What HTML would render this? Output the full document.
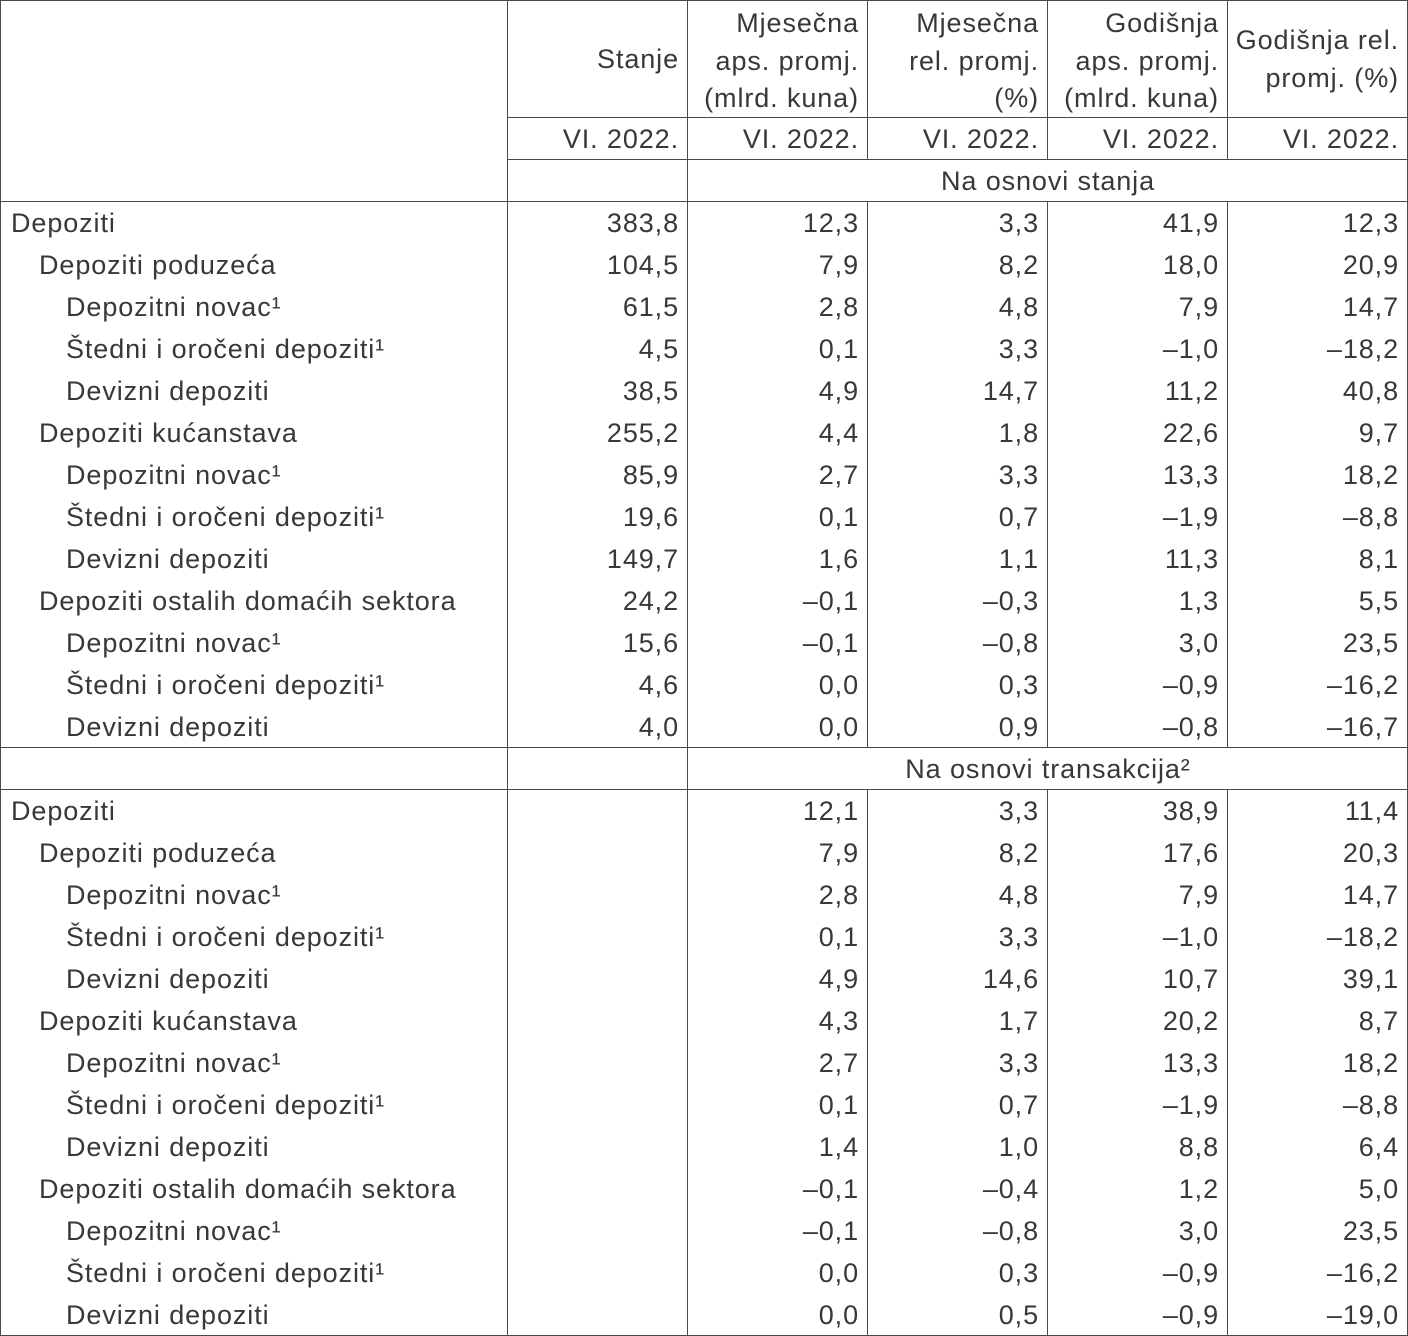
<!DOCTYPE html>
<html>
<head>
<meta charset="utf-8">
<style>
html,body{margin:0;padding:0;background:#fff;}
#t{position:relative;width:1408px;height:1336px;background:#fff;overflow:hidden;
  font-family:"Liberation Sans",Arial,sans-serif;font-size:27px;letter-spacing:0.9px;color:#383838;}
.v{position:absolute;width:1px;background:#4a4a4a;}
.h{position:absolute;height:1px;background:#4a4a4a;}
.row{position:absolute;left:0;width:1408px;height:42px;line-height:42px;}
.row span{position:absolute;top:0;white-space:nowrap;}
.l1{left:11px}.l2{left:39px}.l3{left:66px}
.c1,.c2,.c3,.c4,.c5{width:171px;text-align:right;}
.c1{left:508px}.c2{left:688px}.c3{left:868px}.c4{left:1048px}.c5{left:1228px}
.hd{position:absolute;line-height:37.5px;text-align:right;white-space:nowrap;width:171px;}
.ctr{left:688px;width:720px;text-align:center;}
</style>
</head>
<body>
<div id="t">
<!-- borders -->
<div class="h" style="left:0;top:0;width:1408px"></div>
<div class="h" style="left:0;top:1335px;width:1408px"></div>
<div class="v" style="left:0;top:0;height:1336px"></div>
<div class="v" style="left:1407px;top:0;height:1336px"></div>
<div class="v" style="left:507px;top:0;height:1336px"></div>
<div class="v" style="left:687px;top:0;height:1336px"></div>
<div class="v" style="left:867px;top:0;height:159px"></div>
<div class="v" style="left:1047px;top:0;height:159px"></div>
<div class="v" style="left:1227px;top:0;height:159px"></div>
<div class="v" style="left:867px;top:201px;height:546px"></div>
<div class="v" style="left:1047px;top:201px;height:546px"></div>
<div class="v" style="left:1227px;top:201px;height:546px"></div>
<div class="v" style="left:867px;top:789px;height:547px"></div>
<div class="v" style="left:1047px;top:789px;height:547px"></div>
<div class="v" style="left:1227px;top:789px;height:547px"></div>
<div class="h" style="left:508px;top:117px;width:900px"></div>
<div class="h" style="left:508px;top:159px;width:900px"></div>
<div class="h" style="left:0;top:201px;width:1408px"></div>
<div class="h" style="left:0;top:747px;width:1408px"></div>
<div class="h" style="left:0;top:789px;width:1408px"></div>

<!-- header -->
<div class="hd" style="left:508px;top:41px">Stanje</div>
<div class="hd" style="left:688px;top:5px">Mjesečna<br>aps. promj.<br>(mlrd. kuna)</div>
<div class="hd" style="left:868px;top:5px">Mjesečna<br>rel. promj.<br>(%)</div>
<div class="hd" style="left:1048px;top:5px">Godišnja<br>aps. promj.<br>(mlrd. kuna)</div>
<div class="hd" style="left:1228px;top:22px">Godišnja rel.<br>promj. (%)</div>

<div class="row" style="top:118px"><span class="c1">VI. 2022.</span><span class="c2">VI. 2022.</span><span class="c3">VI. 2022.</span><span class="c4">VI. 2022.</span><span class="c5">VI. 2022.</span></div>
<div class="row" style="top:160px"><span class="ctr">Na osnovi stanja</span></div>

<!-- section 1 -->
<div class="row" style="top:202px"><span class="l1">Depoziti</span><span class="c1">383,8</span><span class="c2">12,3</span><span class="c3">3,3</span><span class="c4">41,9</span><span class="c5">12,3</span></div>
<div class="row" style="top:244px"><span class="l2">Depoziti poduzeća</span><span class="c1">104,5</span><span class="c2">7,9</span><span class="c3">8,2</span><span class="c4">18,0</span><span class="c5">20,9</span></div>
<div class="row" style="top:286px"><span class="l3">Depozitni novac¹</span><span class="c1">61,5</span><span class="c2">2,8</span><span class="c3">4,8</span><span class="c4">7,9</span><span class="c5">14,7</span></div>
<div class="row" style="top:328px"><span class="l3">Štedni i oročeni depoziti¹</span><span class="c1">4,5</span><span class="c2">0,1</span><span class="c3">3,3</span><span class="c4">–1,0</span><span class="c5">–18,2</span></div>
<div class="row" style="top:370px"><span class="l3">Devizni depoziti</span><span class="c1">38,5</span><span class="c2">4,9</span><span class="c3">14,7</span><span class="c4">11,2</span><span class="c5">40,8</span></div>
<div class="row" style="top:412px"><span class="l2">Depoziti kućanstava</span><span class="c1">255,2</span><span class="c2">4,4</span><span class="c3">1,8</span><span class="c4">22,6</span><span class="c5">9,7</span></div>
<div class="row" style="top:454px"><span class="l3">Depozitni novac¹</span><span class="c1">85,9</span><span class="c2">2,7</span><span class="c3">3,3</span><span class="c4">13,3</span><span class="c5">18,2</span></div>
<div class="row" style="top:496px"><span class="l3">Štedni i oročeni depoziti¹</span><span class="c1">19,6</span><span class="c2">0,1</span><span class="c3">0,7</span><span class="c4">–1,9</span><span class="c5">–8,8</span></div>
<div class="row" style="top:538px"><span class="l3">Devizni depoziti</span><span class="c1">149,7</span><span class="c2">1,6</span><span class="c3">1,1</span><span class="c4">11,3</span><span class="c5">8,1</span></div>
<div class="row" style="top:580px"><span class="l2">Depoziti ostalih domaćih sektora</span><span class="c1">24,2</span><span class="c2">–0,1</span><span class="c3">–0,3</span><span class="c4">1,3</span><span class="c5">5,5</span></div>
<div class="row" style="top:622px"><span class="l3">Depozitni novac¹</span><span class="c1">15,6</span><span class="c2">–0,1</span><span class="c3">–0,8</span><span class="c4">3,0</span><span class="c5">23,5</span></div>
<div class="row" style="top:664px"><span class="l3">Štedni i oročeni depoziti¹</span><span class="c1">4,6</span><span class="c2">0,0</span><span class="c3">0,3</span><span class="c4">–0,9</span><span class="c5">–16,2</span></div>
<div class="row" style="top:706px"><span class="l3">Devizni depoziti</span><span class="c1">4,0</span><span class="c2">0,0</span><span class="c3">0,9</span><span class="c4">–0,8</span><span class="c5">–16,7</span></div>

<div class="row" style="top:748px"><span class="ctr">Na osnovi transakcija²</span></div>

<!-- section 2 -->
<div class="row" style="top:790px"><span class="l1">Depoziti</span><span class="c2">12,1</span><span class="c3">3,3</span><span class="c4">38,9</span><span class="c5">11,4</span></div>
<div class="row" style="top:832px"><span class="l2">Depoziti poduzeća</span><span class="c2">7,9</span><span class="c3">8,2</span><span class="c4">17,6</span><span class="c5">20,3</span></div>
<div class="row" style="top:874px"><span class="l3">Depozitni novac¹</span><span class="c2">2,8</span><span class="c3">4,8</span><span class="c4">7,9</span><span class="c5">14,7</span></div>
<div class="row" style="top:916px"><span class="l3">Štedni i oročeni depoziti¹</span><span class="c2">0,1</span><span class="c3">3,3</span><span class="c4">–1,0</span><span class="c5">–18,2</span></div>
<div class="row" style="top:958px"><span class="l3">Devizni depoziti</span><span class="c2">4,9</span><span class="c3">14,6</span><span class="c4">10,7</span><span class="c5">39,1</span></div>
<div class="row" style="top:1000px"><span class="l2">Depoziti kućanstava</span><span class="c2">4,3</span><span class="c3">1,7</span><span class="c4">20,2</span><span class="c5">8,7</span></div>
<div class="row" style="top:1042px"><span class="l3">Depozitni novac¹</span><span class="c2">2,7</span><span class="c3">3,3</span><span class="c4">13,3</span><span class="c5">18,2</span></div>
<div class="row" style="top:1084px"><span class="l3">Štedni i oročeni depoziti¹</span><span class="c2">0,1</span><span class="c3">0,7</span><span class="c4">–1,9</span><span class="c5">–8,8</span></div>
<div class="row" style="top:1126px"><span class="l3">Devizni depoziti</span><span class="c2">1,4</span><span class="c3">1,0</span><span class="c4">8,8</span><span class="c5">6,4</span></div>
<div class="row" style="top:1168px"><span class="l2">Depoziti ostalih domaćih sektora</span><span class="c2">–0,1</span><span class="c3">–0,4</span><span class="c4">1,2</span><span class="c5">5,0</span></div>
<div class="row" style="top:1210px"><span class="l3">Depozitni novac¹</span><span class="c2">–0,1</span><span class="c3">–0,8</span><span class="c4">3,0</span><span class="c5">23,5</span></div>
<div class="row" style="top:1252px"><span class="l3">Štedni i oročeni depoziti¹</span><span class="c2">0,0</span><span class="c3">0,3</span><span class="c4">–0,9</span><span class="c5">–16,2</span></div>
<div class="row" style="top:1294px"><span class="l3">Devizni depoziti</span><span class="c2">0,0</span><span class="c3">0,5</span><span class="c4">–0,9</span><span class="c5">–19,0</span></div>
</div>
</body>
</html>
